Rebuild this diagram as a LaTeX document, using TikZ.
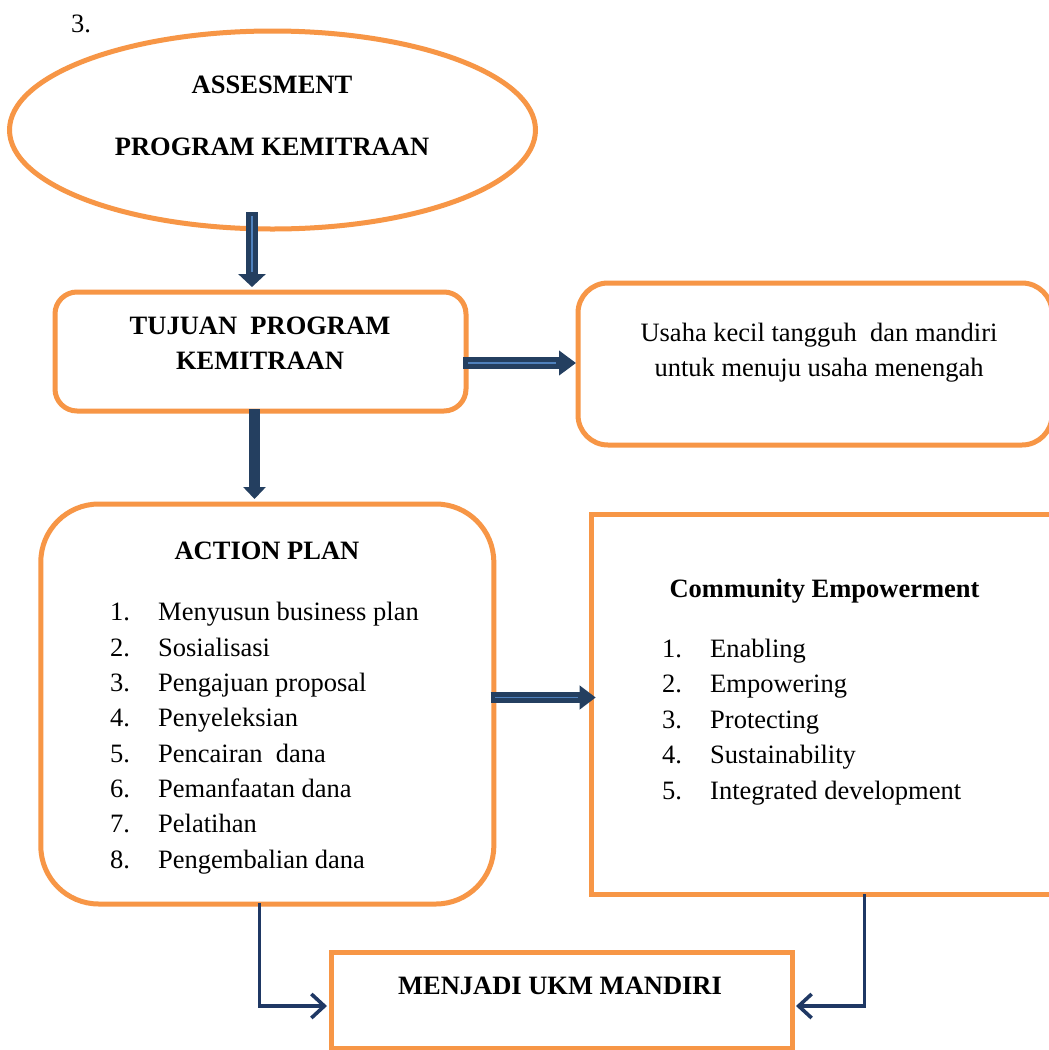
\documentclass[tikz,border=0pt]{standalone}
\usepackage{fontspec}
\setmainfont{Liberation Serif}
\usetikzlibrary{arrows.meta,shapes.geometric}
\definecolor{orng}{HTML}{F79646}
\definecolor{navy}{HTML}{243F60}
\definecolor{lblue}{HTML}{4F81BD}
\definecolor{cnavy}{HTML}{1F3864}
\begin{document}
\begin{tikzpicture}[x=1pt,y=-1pt,
  box/.style={draw=orng, line width=5pt, inner sep=0pt, outer sep=0pt},
  txt/.style={inner sep=0pt, anchor=base, font=\fontsize{26.5}{35.5}\selectfont},
  btxt/.style={inner sep=0pt, anchor=base, font=\fontsize{26.5}{35.5}\selectfont\bfseries},
  ltxt/.style={inner sep=0pt, anchor=base west, font=\fontsize{26.5}{35.5}\selectfont},
  blockarrow/.style={draw=navy, line width=#1},
  innerline/.style={draw=lblue, line width=1.3pt},
  conn/.style={draw=cnavy, line width=3.6pt, -{Straight Barb[length=13pt,width=24pt]}}
]
\clip (0,0) rectangle (1049,1050);
\fill[white] (0,0) rectangle (1049,1050);

% label
\node[txt] (num) at (81,32) {3.};

% ellipse
\node[box, ellipse, minimum width=526pt, minimum height=198pt] (ell) at (272.5,130) {};
\node[btxt] (ellA) at (272,93) {ASSESMENT};
\node[btxt] (ellB) at (272,155) {PROGRAM KEMITRAAN};

% tujuan box
\node[box, rounded corners=22pt, minimum width=411pt, minimum height=119pt] (tuj) at (260.5,351.5) {};
\node[btxt] (tujA) at (260,334) {TUJUAN\ \ PROGRAM};
\node[btxt] (tujB) at (260,369) {KEMITRAAN};

% usaha box
\node[box, rounded corners=30pt, minimum width=474pt, minimum height=162pt] (usa) at (815,364) {};
\node[txt] (usaA) at (819,341) {Usaha kecil tangguh\ \ dan mandiri};
\node[txt] (usaB) at (819,376) {untuk menuju usaha menengah};

% action plan box
\node[box, rounded corners=58pt, minimum width=453pt, minimum height=400pt] (ap) at (267.3,704) {};
\node[btxt] (apH) at (267,559) {ACTION PLAN};
\foreach \i/\t in {1/Menyusun business plan,2/Sosialisasi,3/Pengajuan proposal,4/Penyeleksian,5/Pencairan\ \ dana,6/Pemanfaatan dana,7/Pelatihan,8/Pengembalian dana}{
  \node[ltxt] (apn\i) at (110,{620.7+35.35*(\i-1)}) {\i.};
  \node[ltxt] (apt\i) at (158,{620.7+35.35*(\i-1)}) {\t};
}

% community box
\node[box, minimum width=479pt, minimum height=380pt] (com) at (830.5,704) {};
\node[btxt] (comH) at (824.5,597) {Community Empowerment};
\foreach \i/\t in {1/Enabling,2/Empowering,3/Protecting,4/Sustainability,5/Integrated development}{
  \node[ltxt] (comn\i) at (662,{657+35.5*(\i-1)}) {\i.};
  \node[ltxt] (comt\i) at (710,{657+35.5*(\i-1)}) {\t};
}

% ukm box
\node[box, minimum width=461pt, minimum height=96pt] (ukm) at (562,1000) {};
\node[btxt] (ukmT) at (560,994) {MENJADI UKM MANDIRI};

% block arrows
\coordinate (a1s) at (252,212);
\coordinate (a1e) at (252,287);
\draw[blockarrow=12pt, -{Triangle[length=13pt,width=27pt]}] (a1s) -- (a1e);
\draw[innerline] (252,216) -- (252,272);

\coordinate (a2s) at (463,363);
\coordinate (a2e) at (576,363);
\draw[blockarrow=12pt, -{Triangle[length=17pt,width=24pt]}] (a2s) -- (a2e);
\draw[innerline] (468,363) -- (556,363);

\coordinate (a3s) at (254.5,409);
\coordinate (a3e) at (254.5,499);
\draw[blockarrow=10.5pt, -{Triangle[length=12pt,width=22pt]}] (a3s) -- (a3e);

\coordinate (a4s) at (490.7,697.5);
\coordinate (a4e) at (595.7,697.5);
\draw[blockarrow=11.6pt, -{Triangle[length=16pt,width=23pt]}] (a4s) -- (a4e);
\draw[innerline] (495,697.5) -- (578,697.5);

% connectors to UKM
\coordinate (c1s) at (259.3,903);
\coordinate (c1e) at (327,1006);
\draw[conn] (c1s) |- (c1e);
\coordinate (c2s) at (864.3,894);
\coordinate (c2e) at (796,1006);
\draw[conn] (c2s) |- (c2e);
\end{tikzpicture}
\end{document}
